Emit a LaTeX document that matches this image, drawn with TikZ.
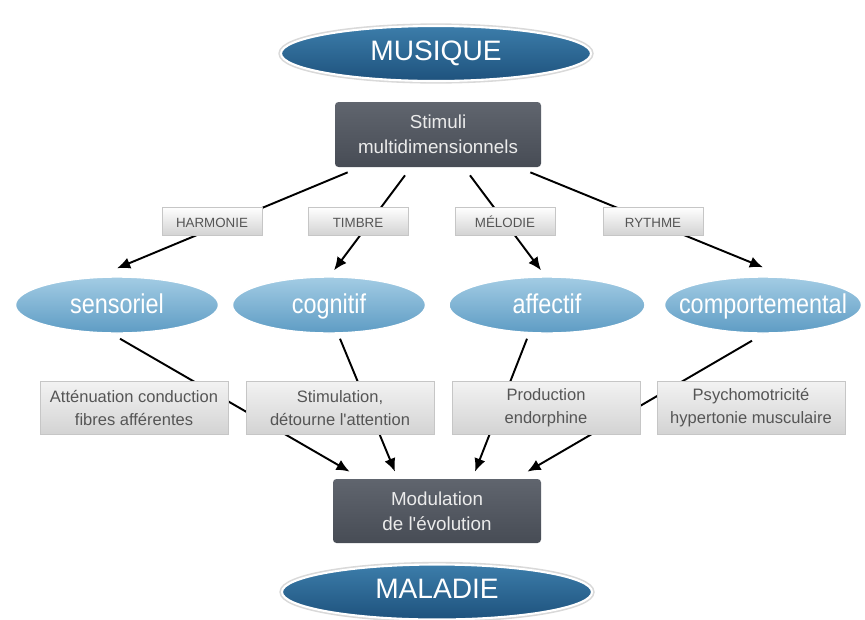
\documentclass[tikz,border=0pt]{standalone}
\usepackage{fontspec}
\setmainfont{Liberation Sans}
\newfontfamily\narrowfont[FakeStretch=0.86]{Liberation Sans}
\usetikzlibrary{shapes.geometric,arrows.meta}

\definecolor{seaTop}{HTML}{3C7DAA}
\definecolor{seaBot}{HTML}{1E527D}
\definecolor{skyTop}{HTML}{A3CCE4}
\definecolor{skyBot}{HTML}{5E9CC4}
\definecolor{slateTop}{HTML}{60656E}
\definecolor{slateBot}{HTML}{474C55}
\definecolor{paperBot}{HTML}{D3D3D3}
\definecolor{paperLine}{HTML}{C6C6C6}
\definecolor{inkGray}{HTML}{555555}

\begin{document}
\begin{tikzpicture}[
  bigbubble/.style={ellipse, minimum width=6.2cm, minimum height=1.1cm,
    top color=seaTop, bottom color=seaBot, draw=white, line width=1.2pt,
    preaction={draw=gray!30, line width=3pt}, text height=1.5ex, text depth=0.1ex,
    text=white, font=\fontsize{16}{18}\selectfont},
  darkbox/.style={rectangle, rounded corners=2pt, minimum width=4.12cm, minimum height=1.3cm,
    top color=slateTop, bottom color=slateBot, text=white!92!black, align=center,
    font=\fontsize{10.7}{14.2}\selectfont},
  tagbox/.style={rectangle, minimum width=2cm, minimum height=0.56cm,
    top color=white, bottom color=paperBot, draw=paperLine, text=inkGray,
    text height=1.4ex, text depth=0.1ex, font=\fontsize{7.6}{9}\selectfont},
  bubble/.style={ellipse, minimum height=1.12cm,
    top color=skyTop, bottom color=skyBot, draw=white, line width=0.8pt},
  bubbletext/.style={text=white, text height=1.5ex, text depth=0.35ex, yshift=-2pt,
    font=\narrowfont\fontsize{15.5}{18}\selectfont},
  notebox/.style={rectangle, minimum width=3.76cm, minimum height=1.06cm,
    top color=white!95!black, bottom color=paperBot, draw=paperLine, text=inkGray, align=center,
    font=\fontsize{9.4}{13}\selectfont},
  link/.style={line width=1.1pt, -{Latex[length=7.5pt,width=6.5pt]}}
]
\useasboundingbox (0,0) rectangle (17.3,-12.38);

% haut
\node[bigbubble] (musi) at (8.72,-1.07) {MUSIQUE};
\node[darkbox] (stim) at (8.76,-2.69) {Stimuli\\multidimensionnels};

% les quatre niveaux
\node[bubble, minimum width=4.06cm, label={[bubbletext]center:sensoriel}] (sens) at (2.34,-6.1) {};
\node[bubble, minimum width=3.86cm, label={[bubbletext]center:cognitif}] (cogn) at (6.58,-6.1) {};
\node[bubble, minimum width=3.92cm, label={[bubbletext]center:affectif}] (affe) at (10.94,-6.1) {};
\node[bubble, minimum width=3.94cm, label={[bubbletext]center:comportemental}] (comp) at (15.26,-6.1) {};

% bas
\node[darkbox, minimum width=4.16cm, minimum height=1.28cm] (modu) at (8.74,-10.22) {Modulation\\de l\textquotesingle évolution};
\node[bigbubble] (mala) at (8.74,-11.84) {MALADIE};

% fleches
\draw[link] ([xshift=0.26cm,yshift=-0.1cm]stim.south west) -- ([yshift=0.16cm]sens.north);
\draw[link] ([xshift=-0.66cm,yshift=-0.16cm]stim.south) -- ([xshift=0.1cm,yshift=0.12cm]cogn.north);
\draw[link] ([xshift=0.64cm,yshift=-0.16cm]stim.south) -- ([xshift=-0.12cm,yshift=0.12cm]affe.north);
\draw[link] ([xshift=-0.22cm,yshift=-0.1cm]stim.south east) -- ([yshift=0.18cm]comp.north);
\draw[link] ([xshift=0.06cm,yshift=-0.1cm]sens.south) -- ([xshift=0.34cm,yshift=0.14cm]modu.north west);
\draw[link] ([xshift=0.22cm,yshift=-0.1cm]cogn.south) -- ([xshift=-0.84cm,yshift=0.14cm]modu.north);
\draw[link] ([xshift=-0.4cm,yshift=-0.1cm]affe.south) -- ([xshift=0.76cm,yshift=0.14cm]modu.north);
\draw[link] ([xshift=-0.22cm,yshift=-0.14cm]comp.south) -- ([xshift=-0.28cm,yshift=0.14cm]modu.north east);

% etiquettes par-dessus les fleches
\node[tagbox] (harm) at (4.24,-4.42) {HARMONIE};
\node[tagbox] (timb) at (7.16,-4.42) {TIMBRE};
\node[tagbox] (melo) at (10.1,-4.42) {MÉLODIE};
\node[tagbox] (ryth) at (13.06,-4.42) {RYTHME};

\node[notebox] (atte) at (2.68,-8.16) {Atténuation conduction\\fibres afférentes};
\node[notebox] (stml) at (6.8,-8.16) {Stimulation,\\détourne l\textquotesingle attention};
\node[notebox] (prod) at (10.92,-8.16) {Production\\endorphine};
\node[notebox] (psyc) at (15.02,-8.16) {Psychomotricité\\hypertonie musculaire};
\end{tikzpicture}
\end{document}
